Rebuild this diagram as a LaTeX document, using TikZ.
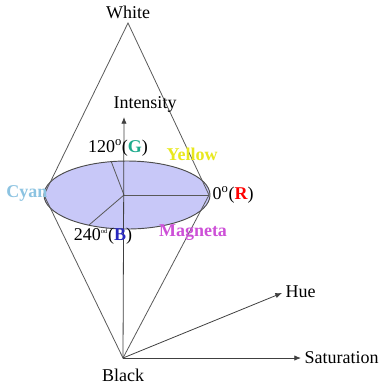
\documentclass[tikz,border=0pt]{standalone}
\usepackage{fontspec}
\setmainfont{Liberation Serif}
\usetikzlibrary{arrows.meta}

\definecolor{discfill}{RGB}{200,200,248}
\definecolor{cyanlab}{RGB}{140,195,225}
\definecolor{yellowlab}{RGB}{232,232,30}
\definecolor{magentalab}{RGB}{205,80,215}
\definecolor{greenlab}{RGB}{30,170,140}
\definecolor{bluelab}{RGB}{40,40,190}

\begin{document}
\begin{tikzpicture}[
  x=0.75pt, y=-0.75pt,
  font=\fontsize{13.5}{15}\selectfont,
  >={Latex[length=5pt,width=4pt]},
  edge/.style={draw=black!65, line width=0.6pt},
  axis/.style={draw=black!75, line width=0.6pt, ->},
  lab/.style={inner sep=1pt},
  colorlab/.style={inner sep=1pt, font=\fontsize{13.5}{15}\selectfont\bfseries}
]
\useasboundingbox (0,0) rectangle (388,387);

% cone corners
\coordinate (top) at (128,23);
\coordinate (left) at (44,195);
\coordinate (right) at (209,195);
\coordinate (bottom) at (123,358);
\coordinate (ctr) at (124,195);

% disc
\draw[draw=black!70, fill=discfill, line width=0.7pt] (127,195) ellipse (83 and 34);
\coordinate (g) at (111,161);
\coordinate (b) at (89,225);
\draw[edge] (ctr) -- (right);
\draw[edge] (ctr) -- (g);
\draw[edge] (ctr) -- (b);

% double cone
\draw[edge] (top) -- (left) -- (bottom) -- (right) -- cycle;

% axes
\coordinate (itip) at (124,117);
\coordinate (htip) at (282,293);
\coordinate (stip) at (301,358);
\draw[axis] (bottom) -- (itip);
\draw[axis] (bottom) -- (htip);
\draw[axis] (bottom) -- (stip);

\node[lab] (white) at (128,12) {White};
\node[lab] (black) at (123,375) {Black};
\node[lab] (intensity) at (145,104) {Intensity};
\node[lab, anchor=west] (hue) at (284,292) {Hue};
\node[lab, anchor=west] (sat) at (303,358) {Saturation};

\node[lab] (deg120) at (118,148) {120\textsuperscript{o}(\textcolor{greenlab}{\textbf{G}})};
\node[lab, anchor=west] (deg0) at (211,195) {0\textsuperscript{o}(\textcolor{red}{\textbf{R}})};
\node[lab] (deg240) at (103,236) {240\textsuperscript{\tiny od}(\textcolor{bluelab}{\textbf{B}})};

\node[colorlab, text=yellowlab] (yellow) at (192,154) {Yellow};
\node[colorlab, text=cyanlab] (cyan) at (27,193) {Cyan};
\node[colorlab, text=magentalab] (magenta) at (193,233) {Magneta};
\end{tikzpicture}
\end{document}
